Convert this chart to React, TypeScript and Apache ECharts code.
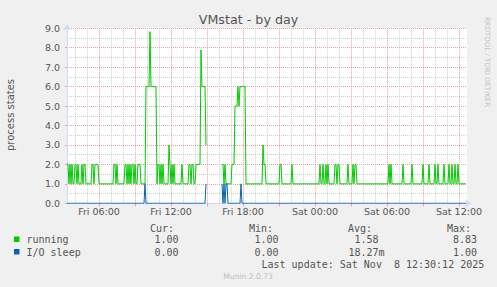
import React, { useEffect, useRef } from 'react';
import * as echarts from 'echarts';

// ---- data ----
const title = 'VMstat - by day';
const yAxisName = 'process states';
const tickLabels = ['Fri 06:00', 'Fri 12:00', 'Fri 18:00', 'Sat 00:00', 'Sat 06:00', 'Sat 12:00'];
const startMinute = 200; // Fri 03:20, minutes after Fri 00:00
const stepMinutes = 5;

const seriesNames = ['running', 'I/O sleep'];
const seriesColors = ['#00cc00', '#0066b3'];
const legendHeaders = ['Cur:', 'Min:', 'Avg:', 'Max:'];
const curValues = ['1.00', '0.00'];
const minValues = ['1.00', '0.00'];
const avgValues = ['1.58', '18.27m'];
const maxValues = ['8.83', '1.00'];
const lastUpdate = 'Last update: Sat Nov  8 12:30:12 2025';
const footer = 'Munin 2.0.73';
const watermark = 'RRDTOOL / TOBI OETIKER';

const N = null;
const running: (number | null)[] = [
  2, 2, 1, 2, 1, 2, 1, 1, 2, 2,
  1, 2, 1, 1, 1, 2, 1, 2, 2, 1,
  1, 1, 1, 1, 1, 2, 2, 1, 2, 2,
  2, 2, 1, 1, 1, 1, 1, 1, 1, 1,
  1, 1, 1, 1, 1, 1, 1, 2, 2, 1,
  2, 1, 1, 1, 1, 1, 1, 1, 2, 2,
  1, 2, 1, 2, 1, 2, 2, 1, 2, 1,
  1, 2, 2, 2, 1, 1, 1, 1, 1, 6,
  6, 6, 6, 8.83, 6, 6, 6, 6, 6, 6,
  1, 2, 2, 1, 2, 1, 2, 1, 1, 1,
  1, 1, 3, 2, 1, 2, 1, 2, 1, 1,
  1, 1, 1, 1, 1, 2, 1, 1, 1, 1,
  1, 1, 2, 2, 1, 2, 2, 1, 1, 2,
  2, 2, 2, 2, 7.88, 6, 6, 6, 6, 3,
  N, N, N, N, N, N, N, N, N, N,
  N, N, N, N, N, 2, 2, 1, 2, 1,
  1, 1, 1, 1, 1, 2, 2, 2, 5, 5,
  5, 6, 5, 6, 6, 6, 6, 6, 6, 1,
  1, 1, 1, 1, 1, 1, 1, 1, 1, 1,
  1, 1, 1, 1, 1, 1, 3, 2, 2, 1,
  1, 1, 1, 1, 1, 1, 1, 1, 1, 1,
  1, 1, 1, 2, 2, 1, 1, 1, 1, 1,
  1, 1, 1, 1, 1, 2, 1, 1, 1, 1,
  1, 1, 1, 1, 1, 1, 1, 1, 1, 1,
  1, 1, 1, 1, 1, 1, 1, 1, 1, 1,
  1, 1, 1, 2, 1, 1, 2, 1, 1, 2,
  1, 2, 1, 1, 1, 1, 1, 1, 2, 2,
  1, 2, 2, 1, 1, 1, 1, 1, 1, 1,
  1, 2, 1, 1, 1, 1, 2, 1, 2, 2,
  1, 1, 1, 1, 1, 1, 1, 1, 1, 1,
  1, 1, 1, 1, 1, 1, 1, 1, 1, 1,
  1, 1, 1, 1, 1, 1, 1, 1, 1, 1,
  1, 1, 2, 1, 2, 1, 1, 1, 1, 1,
  1, 1, 1, 1, 1, 1, 2, 1, 1, 1,
  1, 1, 1, 1, 1, 2, 1, 1, 1, 1,
  1, 1, 1, 1, 1, 1, 2, 1, 1, 1,
  1, 1, 2, 1, 1, 1, 1, 1, 2, 1,
  1, 2, 1, 1, 1, 1, 1, 2, 1, 1,
  1, 1, 2, 1, 1, 2, 1, 1, 2, 1,
  1, 2, 1, 1, 1, 1, 1, 1, 1, 1,
];

const ioSleep: (number | null)[] = [
  0, 0, 0, 0, 0, 0, 0, 0, 0, 0,
  0, 0, 0, 0, 0, 0, 0, 0, 0, 0,
  0, 0, 0, 0, 0, 0, 0, 0, 0, 0,
  0, 0, 0, 0, 0, 0, 0, 0, 0, 0,
  0, 0, 0, 0, 0, 0, 0, 0, 0, 0,
  0, 0, 0, 0, 0, 0, 0, 0, 0, 0,
  0, 0, 0, 0, 0, 0, 0, 0, 0, 0,
  0, 0, 0, 0, 0, 0, 0, 0, 1, 0,
  0, 0, 0, 0, 0, 0, 0, 0, 0, 0,
  0, 0, 0, 0, 0, 0, 0, 0, 0, 0,
  0, 0, 0, 0, 0, 0, 0, 0, 0, 0,
  0, 0, 0, 0, 0, 0, 0, 0, 0, 0,
  0, 0, 0, 0, 0, 0, 0, 0, 0, 0,
  0, 0, 0, 0, 0, 0, 0, 0, 0, 1,
  N, N, N, N, N, N, N, N, N, N,
  N, N, N, N, N, 1, 0, 1, 0, 1,
  1, 0, 0, 0, 0, 0, 0, 0, 0, 0,
  0, 0, 0, 0, 1, 0, 0, 0, 0, 0,
  0, 0, 0, 0, 0, 0, 0, 0, 0, 0,
  0, 0, 0, 0, 0, 0, 0, 0, 0, 0,
  0, 0, 0, 0, 0, 0, 0, 0, 0, 0,
  0, 0, 0, 0, 0, 0, 0, 0, 0, 0,
  0, 0, 0, 0, 0, 0, 0, 0, 0, 0,
  0, 0, 0, 0, 0, 0, 0, 0, 0, 0,
  0, 0, 0, 0, 0, 0, 0, 0, 0, 0,
  0, 0, 0, 0, 0, 0, 0, 0, 0, 0,
  0, 0, 0, 0, 0, 0, 0, 0, 0, 0,
  0, 0, 0, 0, 0, 0, 0, 0, 0, 0,
  0, 0, 0, 0, 0, 0, 0, 0, 0, 0,
  0, 0, 0, 0, 0, 0, 0, 0, 0, 0,
  0, 0, 0, 0, 0, 0, 0, 0, 0, 0,
  0, 0, 0, 0, 0, 0, 0, 0, 0, 0,
  0, 0, 0, 0, 0, 0, 0, 0, 0, 0,
  0, 0, 0, 0, 0, 0, 0, 0, 0, 0,
  0, 0, 0, 0, 0, 0, 0, 0, 0, 0,
  0, 0, 0, 0, 0, 0, 0, 0, 0, 0,
  0, 0, 0, 0, 0, 0, 0, 0, 0, 0,
  0, 0, 0, 0, 0, 0, 0, 0, 0, 0,
  0, 0, 0, 0, 0, 0, 0, 0, 0, 0,
  0, 0, 0, 0, 0, 0, 0, 0, 0, 0,
];

// ---- axis domain (5-minute steps) ----
const pad = (n: number) => (n < 10 ? '0' + n : '' + n);
const categories: string[] = [];
const minuteOf: number[] = [];
for (let i = 0; i <= running.length; i++) {
  const m = startMinute + i * stepMinutes;
  minuteOf.push(m);
  const day = m < 1440 ? 'Fri' : 'Sat';
  const mm = m % 1440;
  categories.push(`${day} ${pad(Math.floor(mm / 60))}:${pad(mm % 60)}`);
}
const isHour = (i: number) => minuteOf[i] % 60 === 0;
const hourOf = (i: number) => Math.floor(minuteOf[i] / 60) % 24;
const isMajor = (i: number) => isHour(i) && hourOf(i) % 3 === 0;
const isMinor = (i: number) => isHour(i) && hourOf(i) % 3 !== 0;

const FONT = 'DejaVu Sans';
const MONO = 'DejaVu Sans Mono';
const TEXT = '#555555';
const AXIS = '#CFD6F8';
const GRID = '#cdcdcd';
const MGRID = '#e6a2a2';

const txt = (text: string, x: number, y: number, opts: any = {}) => ({
  type: 'text',
  x,
  y,
  rotation: opts.rotation || 0,
  silent: true,
  style: {
    text,
    fill: opts.fill || TEXT,
    fontFamily: opts.fontFamily || MONO,
    fontSize: opts.fontSize || 10,
    align: opts.align || 'left',
    textAlign: opts.align || 'left',
    verticalAlign: 'middle',
    textVerticalAlign: 'middle',
  },
});

export default function App() {
  const ref = useRef<HTMLDivElement>(null);
  useEffect(() => {
    if (!ref.current) return;
    const chart = echarts.init(ref.current, undefined, { renderer: 'svg' });
    const colX = [150, 249, 348, 447];
    const rowY = [239.5, 252];
    const graphic: any[] = [
      txt(title, 248.5, 19.5, { fontFamily: FONT, fontSize: 12.7, align: 'center' }),
      txt(yAxisName, 10, 115, { fontFamily: FONT, fontSize: 10, align: 'center', rotation: Math.PI / 2 }),
      txt(watermark, 487, 62, { fontFamily: FONT, fontSize: 7, align: 'center', rotation: -Math.PI / 2, fill: '#c4c4c4' }),
      txt(footer, 248, 276, { fontFamily: FONT, fontSize: 7.6, align: 'center', fill: '#bdbdbd' }),
      txt(lastUpdate, 261.5, 264),
    ];
    legendHeaders.forEach((h, k) => graphic.push(txt(h, colX[k], 228.5)));
    seriesNames.forEach((name, s) => {
      graphic.push({
        type: 'rect',
        silent: true,
        shape: { x: 14, y: rowY[s] - 3, width: 5.5, height: 5.5 },
        style: { fill: seriesColors[s] },
      });
      graphic.push(txt(name, 26.5, rowY[s]));
      graphic.push(txt(curValues[s], 178.5, rowY[s], { align: 'right' }));
      graphic.push(txt(minValues[s], 278.5, rowY[s], { align: 'right' }));
      graphic.push(txt(avgValues[s], s === 1 ? 384.5 : 378.5, rowY[s], { align: 'right' }));
      graphic.push(txt(maxValues[s], 477, rowY[s], { align: 'right' }));
    });

    chart.setOption({
      animation: false,
      backgroundColor: '#f0f0f0',
      grid: {
        left: 67,
        right: 30,
        top: 28.3,
        height: 175,
        show: true,
        backgroundColor: '#ffffff',
        borderWidth: 0,
      },
      xAxis: [
        {
          type: 'category',
          data: categories,
          boundaryGap: false,
          axisLine: {
            show: true,
            lineStyle: { color: AXIS, width: 1 },
            symbol: ['none', 'arrow'],
            symbolSize: [6, 6],
            symbolOffset: [0, 4],
          },
          axisTick: { show: false },
          axisLabel: {
            interval: (_i: number, v: string) => tickLabels.includes(v),
            color: TEXT,
            fontFamily: FONT,
            fontSize: 9.5,
            margin: 3,
          },
          splitLine: {
            show: true,
            interval: (i: number) => isMinor(i),
            lineStyle: { color: GRID, width: 1, type: [1, 1] },
          },
        },
        {
          type: 'category',
          data: categories,
          boundaryGap: false,
          position: 'bottom',
          axisLine: { show: false },
          axisLabel: { show: false },
          axisTick: {
            show: true,
            interval: (i: number) => isMajor(i),
            length: 3,
            lineStyle: { color: MGRID, width: 1 },
          },
          splitLine: {
            show: true,
            interval: (i: number) => isMajor(i),
            lineStyle: { color: MGRID, width: 1, type: [1, 1] },
          },
        },
      ],
      yAxis: {
        type: 'value',
        min: 0,
        max: 9,
        interval: 1,
        axisLine: {
          show: true,
          lineStyle: { color: AXIS, width: 1 },
          symbol: ['none', 'arrow'],
          symbolSize: [6, 6],
          symbolOffset: [0, 4],
        },
        axisTick: { show: true, length: 2, lineStyle: { color: MGRID } },
        axisLabel: {
          formatter: (v: number) => v.toFixed(1),
          color: TEXT,
          fontFamily: FONT,
          fontSize: 9.5,
          margin: 7,
        },
        splitLine: { show: true, lineStyle: { color: MGRID, width: 1, type: [1, 1] } },
        minorTick: { show: false, splitNumber: 2 },
        minorSplitLine: { show: true, lineStyle: { color: GRID, width: 1, type: [1, 1] } },
      },
      series: [
        {
          name: seriesNames[0],
          type: 'line',
          data: running,
          symbol: 'none',
          connectNulls: false,
          lineStyle: { color: seriesColors[0], width: 1 },
          itemStyle: { color: seriesColors[0] },
        },
        {
          name: seriesNames[1],
          type: 'line',
          data: ioSleep,
          symbol: 'none',
          connectNulls: false,
          lineStyle: { color: seriesColors[1], width: 1 },
          itemStyle: { color: seriesColors[1] },
        },
      ],
      graphic,
    });
    return () => chart.dispose();
  }, []);
  return (
    <div
      ref={ref}
      style={{ position: 'fixed', left: 0, top: 0, width: 497, height: 287 }}
    />
  );
}
